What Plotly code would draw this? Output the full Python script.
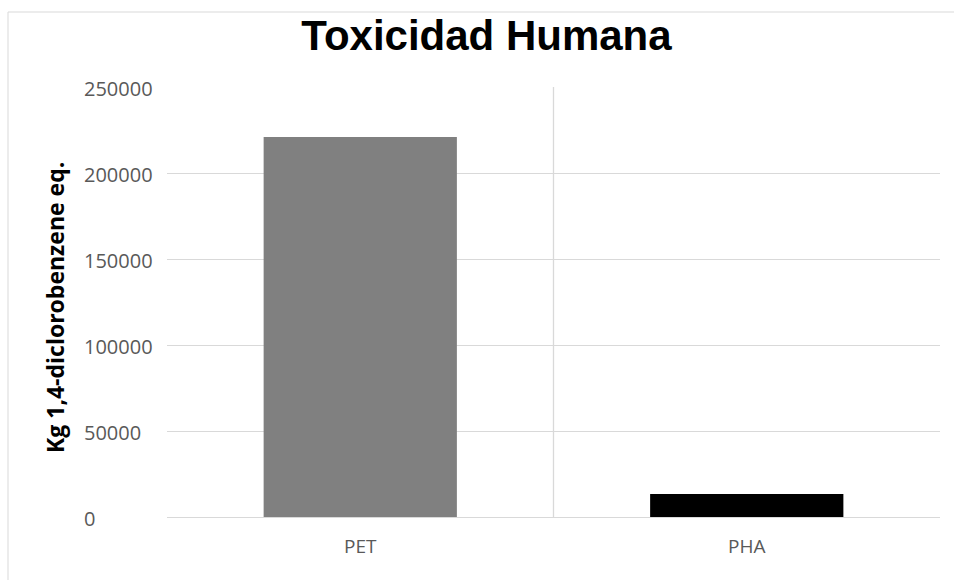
import plotly.graph_objects as go

# Human toxicity impact per material
materials = ["PET", "PHA"]
impact = [221000, 13400]
bar_colors = ["#808080", "#000000"]

y_ticks = [0, 50000, 100000, 150000, 200000, 250000]
y_tick_labels = ["0", "50000", "100000", "150000", "200000", "250000"]

W, H = 954, 580
L, R, T, B = 167, 14, 87, 63
pw, ph = W - L - R, H - T - B

grid_color = "#d9d9d9"
tick_font = dict(family="Open Sans", size=20, color="#595959")

fig = go.Figure(
    go.Bar(
        x=materials,
        y=impact,
        marker=dict(color=bar_colors, line=dict(width=0)),
        width=0.5,
    )
)

# left-aligned y tick labels, placed on the value axis
annotations = [
    dict(
        x=(82 - L) / pw, xref="paper", xanchor="left",
        y=v, yref="y", yanchor="middle", yshift=-1,
        text=lab, showarrow=False, font=tick_font,
    )
    for v, lab in zip(y_ticks, y_tick_labels)
]
annotations.append(
    dict(
        x=(55 - L) / pw, xref="paper", xanchor="center",
        y=0.5 - 6 / ph, yref="paper", yanchor="middle",
        text="Kg 1,4-diclorobenzene eq.", textangle=-90, showarrow=False,
        font=dict(family="Open Sans", size=23, color="#000000", weight="bold"),
    )
)

shapes = [
    # chart frame
    dict(
        type="rect", xref="paper", yref="paper",
        x0=(8 - L) / pw, x1=(W + 20 - L) / pw,
        y0=(H - B - (H + 20)) / ph, y1=1 + (T - 12) / ph,
        line=dict(color=grid_color, width=1), fillcolor="rgba(0,0,0,0)",
        layer="below",
    ),
    # divider between the two categories
    dict(
        type="line", xref="x", yref="y",
        x0=0.5, x1=0.5, y0=y_ticks[0], y1=y_ticks[-1],
        line=dict(color=grid_color, width=1.3), layer="below",
    ),
]

fig.update_layout(
    width=W, height=H,
    margin=dict(l=L, r=R, t=T, b=B),
    paper_bgcolor="white", plot_bgcolor="white",
    showlegend=False,
    title=dict(
        text="<b>Toxicidad Humana</b>",
        x=486.5 / W, xref="container", xanchor="center",
        y=1 - 35 / H, yref="container", yanchor="middle",
        font=dict(family="Liberation Sans", size=42, color="#000000"),
    ),
    xaxis=dict(
        showgrid=False, zeroline=False, showline=False,
        ticks="", tickfont=dict(family="Open Sans", size=19, color="#595959"),
        ticklabelstandoff=16,
    ),
    yaxis=dict(
        range=[0, 250000], tickvals=y_ticks, showticklabels=False,
        showgrid=True, gridcolor=grid_color, gridwidth=1.3,
        zeroline=True, zerolinecolor=grid_color, zerolinewidth=1.3,
        showline=False, ticks="",
    ),
    annotations=annotations,
    shapes=shapes,
    bargap=0.5,
)

fig.write_html("out.html")
